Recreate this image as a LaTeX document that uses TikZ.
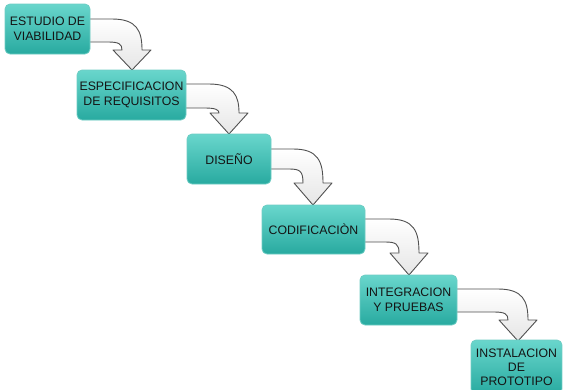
\documentclass[tikz,border=0pt]{standalone}
\usepackage{fontspec}
\setmainfont{Liberation Sans}
\definecolor{boxtop}{RGB}{105,214,204}
\definecolor{boxbot}{RGB}{40,170,160}
\definecolor{boxedge}{RGB}{110,205,196}
\definecolor{arrowedge}{RGB}{80,80,80}
\newcommand{\flowarrow}[6]{%
  % #1 R, #2 T, #3 B, #4 tx, #5 ty, #6 hb
  \draw[blockarrow] (#1,#2) -- ({#4-20},#2)
    .. controls ({#4+5},#2) and ({#4+10},{#2+12}) .. ({#4+10},#6)
    -- ({#4+19},#6) -- (#4,#5) -- ({#4-19},#6) -- ({#4-10},#6)
    .. controls ({#4-10},{#3+2}) and ({#4-13},#3) .. ({#4-24},#3)
    -- (#1,#3);
}
\begin{document}
\begin{tikzpicture}[x=1pt,y=-1pt,
  stagebox/.style={rounded corners=5pt, top color=boxtop, bottom color=boxbot,
    draw=boxedge, line width=0.8pt, inner sep=0pt, align=center,
    font=\fontsize{12.3}{14.8}\selectfont, text=black!92},
  blockarrow/.style={top color=white, bottom color=black!10, draw=arrowedge,
    line width=0.9pt, line join=round}]
\useasboundingbox (0,0) rectangle (563,389);
% arrows
\flowarrow{86}{19}{42}{132}{70}{50}
\flowarrow{182}{84}{108}{229}{134}{113}
\flowarrow{268}{149}{169}{313}{205}{183}
\flowarrow{360}{219}{242}{409}{275}{253}
\flowarrow{454}{289}{312}{518}{341}{320}
% boxes
\node[stagebox, minimum width=85pt, minimum height=50pt] (b1) at (47.5,29) {ESTUDIO DE\\VIABILIDAD};
\node[stagebox, minimum width=109pt, minimum height=50pt] (b2) at (131.5,95) {ESPECIFICACION\\DE REQUISITOS};
\node[stagebox, minimum width=84pt, minimum height=50pt] (b3) at (229,159) {DISEÑO};
\node[stagebox, minimum width=103pt, minimum height=49pt] (b4) at (313.5,229.5) {CODIFICACIÒN};
\node[stagebox, minimum width=97pt, minimum height=50pt] (b5) at (408.5,300) {INTEGRACION\\Y PRUEBAS};
\node[stagebox, minimum width=91pt, minimum height=54pt, font=\fontsize{12.3}{14}\selectfont] (b6) at (516.5,367) {INSTALACION\\DE\\PROTOTIPO};
\end{tikzpicture}
\end{document}
